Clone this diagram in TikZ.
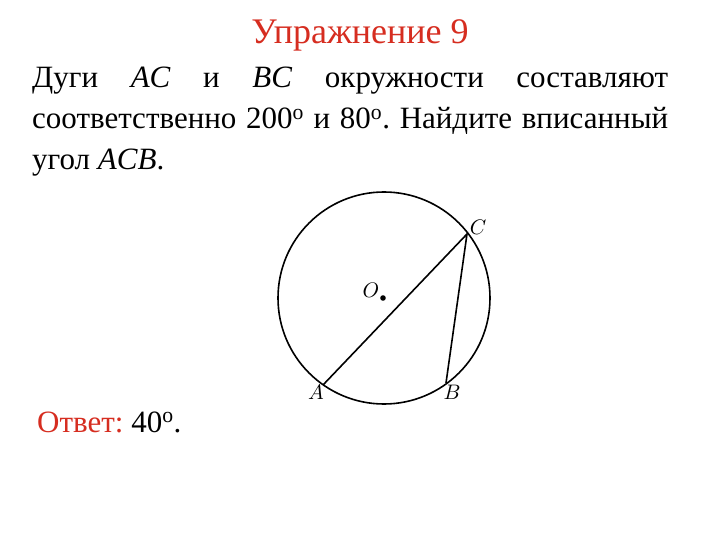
\documentclass[tikz,border=0pt]{standalone}
\usepackage{fontspec}
\setmainfont{Liberation Serif}
\frenchspacing
\definecolor{titlered}{RGB}{214,45,32}
\tikzset{
  txt/.style={anchor=base west, inner sep=0pt, font=\fontsize{31}{36}\selectfont},
  lbl/.style={inner sep=0pt, scale=2.1},
  geom/.style={line width=1.6pt}
}
\begin{document}
\begin{tikzpicture}[x=1pt,y=-1pt]
\useasboundingbox (0,0) rectangle (720,540);
\node[anchor=base, inner sep=0pt, font=\fontsize{36}{40}\selectfont, text=titlered] (title) at (360,44) {Упражнение 9};
\node[txt] (l1) at (32,88) {\makebox[636pt][s]{Дуги \textit{AC} и \textit{BC} окружности составляют}};
\node[txt] (l2) at (32,129) {\makebox[636pt][s]{соответственно 200\textsuperscript{о} и 80\textsuperscript{о}. Найдите вписанный}};
\node[txt] (l3) at (32,170) {угол \textit{ACB}.};
\node[txt] (ans) at (37,432) {\textcolor{titlered}{Ответ:} 40\textsuperscript{о}.};
% geometry
\coordinate (O) at (384,298);
\draw[geom] (O) circle (106);
\coordinate (A) at (323,385);
\coordinate (B) at (446,383);
\coordinate (C) at (467,234);
\draw[geom] (A) -- (C) -- (B);
\fill (383,298) circle (2.8);
\node[lbl] (lA) at (316,392) {$A$};
\node[lbl] (lB) at (452,392) {$B$};
\node[lbl] (lC) at (478,227) {$C$};
\node[lbl] (lO) at (371,290) {$O$};
\end{tikzpicture}
\end{document}
